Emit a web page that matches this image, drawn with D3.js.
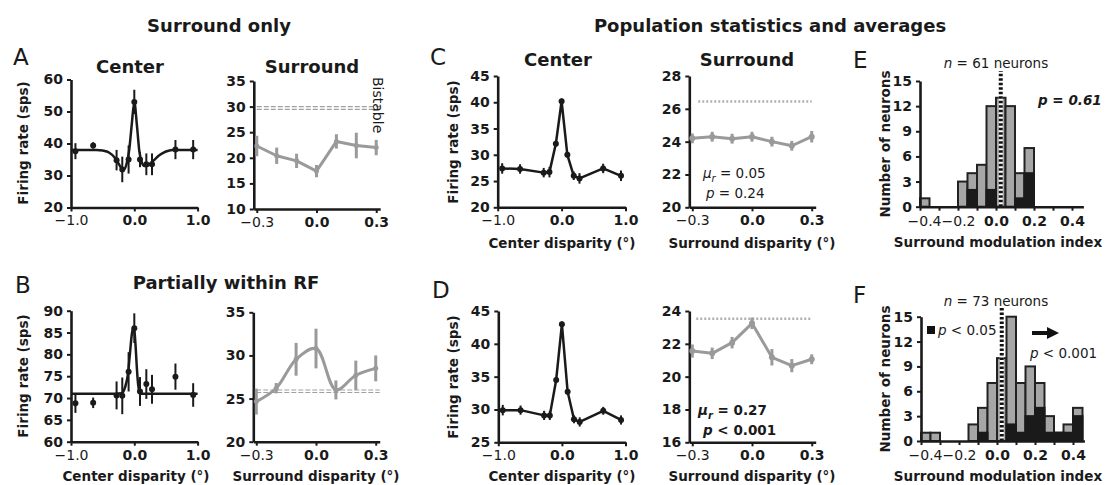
<!DOCTYPE html>
<html><head><meta charset="utf-8">
<script src="https://cdn.jsdelivr.net/npm/d3@7"></script>
<style>
body{margin:0;background:#fff}
svg{display:block}
text{font-family:"DejaVu Sans",sans-serif;fill:#1a1a1a}
</style>
</head><body>
<svg id="c" width="1108" height="485"></svg>
<script>
// ---------- data ----------
const centerDisp = [-0.93,-0.65,-0.28,-0.19,-0.09,0,0.09,0.19,0.28,0.65,0.93];
const surroundDisp = [-0.3,-0.2,-0.1,0,0.1,0.2,0.3];

// Panel A (surround only, example neuron)
const aCenterRate = [37.6,39.4,34.8,31.9,35.0,53.0,35.0,33.5,33.5,38.1,38.1];
const aCenterErr  = [2.5,1.0,3.2,4.0,4.4,3.8,2.4,3.4,3.4,3.0,3.0];
const aFitX = [-1.0,-0.8,-0.6,-0.5,-0.4,-0.3,-0.25,-0.2,-0.16,-0.12,-0.08,-0.04,0,0.04,0.08,0.12,0.16,0.2,0.3,0.4,0.5,0.6,0.8,1.0];
const aFitY = [38,38,38,37.8,37.2,35.4,33.8,32.2,32,33.8,38,46,53,46,37.5,34,33,33,34.6,36.4,37.5,38,38,38];
const aSurRate = [22.3,20.4,19.4,17.4,23.2,22.4,22.0];
const aSurErr  = [2.0,1.6,1.4,1.2,1.4,2.5,1.5];
const aBistable = [29.45,30.0];

// Panel B (partially within RF, example neuron)
const bCenterRate = [68.8,68.9,70.6,70.5,76.0,86.0,71.5,73.2,72.0,74.9,70.7];
const bCenterErr  = [2.2,1.2,3.2,4.2,4.5,3.4,3.3,3.4,3.3,3.0,2.7];
const bFitX = [-1,-0.3,-0.2,-0.15,-0.1,-0.07,-0.04,-0.02,0,0.02,0.04,0.06,0.08,0.1,0.2,1];
const bFitY = [71,71,71.1,72.3,75.5,80,84.5,86,85.5,82,77,73.2,71.5,71,71,71];
const bSurRate = [24.65,26.2,29.55,30.8,26.0,27.7,28.5];
const bSurErr  = [1.5,0.6,1.9,2.3,1.1,1.7,1.5];
const bBaseline = [25.7,26.0];

// Panel C (population, surround only)
const cCenterRate = [27.4,27.3,26.6,26.7,32.1,40.2,30.0,26.0,25.5,27.4,26.0];
const cCenterErr  = [1.0,0.9,0.9,1.0,0.5,0.5,0.5,0.8,1.0,0.9,1.0];
const cSurRate = [24.2,24.3,24.18,24.3,24.0,23.75,24.3];
const cSurErr  = [0.3,0.3,0.3,0.3,0.3,0.3,0.35];
const cBaseline = 26.44;

// Panel D (population, partially within RF)
const dCenterRate = [29.9,29.9,29.1,29.1,34.5,43.0,32.7,28.5,28.1,29.8,28.4];
const dCenterErr  = [0.8,0.7,0.7,0.7,0.4,0.4,0.4,0.6,0.7,0.6,0.7];
const dSurRate = [21.56,21.42,22.07,23.25,21.18,20.67,21.06];
const dSurErr  = [0.4,0.35,0.35,0.35,0.5,0.4,0.3];
const dBaseline = 23.53;

// Histograms (bin starts, width 0.05)
const binStart = [-0.4,-0.35,-0.3,-0.25,-0.2,-0.15,-0.1,-0.05,0,0.05,0.1,0.15,0.2,0.25,0.3,0.35,0.4];
const eTotal = [1,0,0,0,3,4,5,12,13,12,4,7,0,0,0,0,0];
const eSig   = [0,0,0,0,0,2,0,2,0,0,1,4,0,0,0,0,0];
const fTotal = [1,1,0,0,0,2,4,7,10,15,7,9,7,3,1,2,4];
const fSig   = [0,0,0,0,0,0,1,0,0,2,1,3,4,1,1,1,3];
const eMean = 0.025, fMean = 0.025;

// ---------- drawing ----------
const svg = d3.select("#c");
const GRAY = "#9a9a9a";
const fmt1 = d3.format(".1f");

function styleAxis(a, fs){
  a.select(".domain").attr("stroke","#1a1a1a").attr("stroke-width",2.6);
  a.selectAll(".tick line").attr("stroke","#1a1a1a").attr("stroke-width",2);
  a.selectAll(".tick text").attr("font-size",fs||14).attr("fill","#1a1a1a")
    .attr("font-family","DejaVu Sans").attr("font-weight",d=>d<0?"normal":"bold");
}

function panel(c){
  const x = d3.scaleLinear().domain(c.xd).range([c.left,c.right]);
  const y = d3.scaleLinear().domain(c.yd).range([c.bottom,c.top]);
  const g = svg.append("g");
  const ay = g.append("g").attr("transform",`translate(${c.left},0)`)
    .call(d3.axisLeft(y).tickValues(c.yt).tickSize(4).tickSizeOuter(0).tickPadding(4).tickFormat(d3.format("d")));
  styleAxis(ay);
  const ax = g.append("g").attr("transform",`translate(0,${c.bottom})`)
    .call(d3.axisBottom(x).tickValues(c.xt).tickSize(4).tickSizeOuter(0).tickPadding(4).tickFormat(c.xf||fmt1));
  styleAxis(ax);
  return {x,y,g};
}

function errData(p, xs, vals, errs, color, w, r){
  p.g.append("g").selectAll("line").data(vals).join("line")
    .attr("x1",(d,i)=>p.x(xs[i])).attr("x2",(d,i)=>p.x(xs[i]))
    .attr("y1",(d,i)=>p.y(d-errs[i])).attr("y2",(d,i)=>p.y(d+errs[i]))
    .attr("stroke",color).attr("stroke-width",w);
  p.g.append("g").selectAll("circle").data(vals).join("circle")
    .attr("cx",(d,i)=>p.x(xs[i])).attr("cy",d=>p.y(d)).attr("r",r).attr("fill",color);
}
function linePath(p, xs, vals, color, w, curve){
  p.g.append("path").datum(vals)
    .attr("d",d3.line().x((d,i)=>p.x(xs[i])).y(d=>p.y(d)).curve(curve||d3.curveLinear))
    .attr("fill","none").attr("stroke",color).attr("stroke-width",w).attr("stroke-linejoin","round");
}
function hline(p, v, x0, x1, color, w, dash){
  p.g.append("line").attr("x1",p.x(x0)).attr("x2",p.x(x1)).attr("y1",p.y(v)).attr("y2",p.y(v))
    .attr("stroke",color).attr("stroke-width",w).attr("stroke-dasharray",dash);
}
function txt(x,y,s,opt){
  const t = svg.append("text").attr("x",x).attr("y",y).text(s);
  opt = opt||{};
  t.attr("font-size",opt.fs||14).attr("font-weight",opt.fw||"normal")
   .attr("text-anchor",opt.anchor||"start");
  if(opt.style) t.attr("font-style",opt.style);
  if(opt.fill) t.attr("fill",opt.fill);
  return t;
}
function ylab(x,y,s){
  svg.append("text").attr("transform",`translate(${x},${y}) rotate(-90)`)
    .attr("text-anchor","middle").attr("font-size",13.5).attr("font-weight","bold").text(s);
}
const centerX = [-1,0,1], surX = [-0.3,0,0.3];
const surD = [-0.315,0.32];

// ---- Panel A ----
const pAc = panel({xd:[-1,1],left:71,right:197.6,yd:[20,60],bottom:207.5,top:79.5,yt:[20,30,40,50,60],xt:centerX});
linePath(pAc, aFitX, aFitY, "#1a1a1a", 2.5, d3.curveMonotoneX);
errData(pAc, centerDisp, aCenterRate, aCenterErr, "#1a1a1a", 2, 3);
const pAs = panel({xd:surD,left:253.8,right:380.2,yd:[10,35],bottom:209,top:81,yt:[10,15,20,25,30,35],xt:surX});
aBistable.forEach(v=>hline(pAs, v, -0.3, 0.32, "#a0a0a0", 1.1, "5,2"));
linePath(pAs, surroundDisp, aSurRate, GRAY, 3);
errData(pAs, surroundDisp, aSurRate, aSurErr, GRAY, 3, 2.5);
svg.append("text").attr("transform","translate(373,77) rotate(90)").attr("font-size",14)
  .attr("fill","#aaaaaa").text("Bistable");

// ---- Panel B ----
const pBc = panel({xd:[-1,1],left:71,right:197.6,yd:[60,90],bottom:441.7,top:310.7,yt:[60,65,70,75,80,85,90],xt:centerX});
linePath(pBc, bFitX, bFitY, "#1a1a1a", 2.5, d3.curveMonotoneX);
errData(pBc, centerDisp, bCenterRate, bCenterErr, "#1a1a1a", 2, 3);
const pBs = panel({xd:surD,left:253.3,right:379.7,yd:[20,35],bottom:441.7,top:312.3,yt:[20,25,30,35],xt:surX});
bBaseline.forEach(v=>hline(pBs, v, -0.3, 0.32, "#a0a0a0", 1.1, "5,2"));
linePath(pBs, surroundDisp, bSurRate, GRAY, 3, d3.curveCatmullRom);
errData(pBs, surroundDisp, bSurRate, bSurErr, GRAY, 3, 2.5);

// ---- Panel C ----
const pCc = panel({xd:[-1,1],left:497.7,right:625.5,yd:[20,45],bottom:207.3,top:76,yt:[20,25,30,35,40,45],xt:centerX});
linePath(pCc, centerDisp, cCenterRate, "#1a1a1a", 2.5);
errData(pCc, centerDisp, cCenterRate, cCenterErr, "#1a1a1a", 2, 3);
const pCs = panel({xd:surD,left:689.3,right:815.7,yd:[20,28],bottom:207.3,top:76,yt:[20,22,24,26,28],xt:surX});
hline(pCs, cBaseline, -0.27, 0.3, "#b0b0b0", 2.5, "2,2");
linePath(pCs, surroundDisp, cSurRate, GRAY, 3);
errData(pCs, surroundDisp, cSurRate, cSurErr, GRAY, 3, 3);

// ---- Panel D ----
const pDc = panel({xd:[-1,1],left:498.3,right:625.5,yd:[25,45],bottom:442.3,top:311,yt:[25,30,35,40,45],xt:centerX});
linePath(pDc, centerDisp, dCenterRate, "#1a1a1a", 2.5);
errData(pDc, centerDisp, dCenterRate, dCenterErr, "#1a1a1a", 2, 3);
const pDs = panel({xd:surD,left:689.3,right:815.7,yd:[16,24],bottom:442.3,top:311,yt:[16,18,20,22,24],xt:surX});
hline(pDs, dBaseline, -0.28, 0.3, "#b0b0b0", 2.5, "2,2");
linePath(pDs, surroundDisp, dSurRate, GRAY, 3);
errData(pDs, surroundDisp, dSurRate, dSurErr, GRAY, 3, 3);

// ---- Histograms ----
function hist(c, total, sig, mean){
  const x = d3.scaleLinear().domain([-0.4,0.46]).range([c.left,c.left+163.4]);
  const y = d3.scaleLinear().domain([0,15]).range([c.bottom,c.top]);
  const g = svg.append("g");
  const bw = 0.05;
  const rows = binStart.map((b,i)=>({b, t:total[i], s:sig[i]}));
  g.append("g").selectAll("rect").data(rows.filter(r=>r.t>0)).join("rect")
    .attr("x",r=>x(r.b)).attr("y",r=>y(r.t))
    .attr("width",x(bw)-x(0)).attr("height",r=>y(0)-y(r.t))
    .attr("fill","#a6a6a6").attr("stroke","#222").attr("stroke-width",2);
  g.append("g").selectAll("rect").data(rows.filter(r=>r.s>0)).join("rect")
    .attr("x",r=>x(r.b)).attr("y",r=>y(r.s))
    .attr("width",x(bw)-x(0)).attr("height",r=>y(0)-y(r.s))
    .attr("fill","#1a1a1a").attr("stroke","#1a1a1a").attr("stroke-width",2);
  g.append("line").attr("x1",x(mean)).attr("x2",x(mean)).attr("y1",y(0)).attr("y2",y(16.2))
    .attr("stroke","#fff").attr("stroke-width",4);
  g.append("line").attr("x1",x(mean)).attr("x2",x(mean)).attr("y1",y(0)).attr("y2",y(16.2))
    .attr("stroke","#111").attr("stroke-width",4).attr("stroke-dasharray","2.5,2");
  const ay = g.append("g").attr("transform",`translate(${c.left},0)`)
    .call(d3.axisLeft(y).tickValues([0,3,6,9,12,15]).tickSize(4).tickSizeOuter(0).tickPadding(4));
  styleAxis(ay);
  const ticks = d3.range(-4,5).map(v=>v/10);
  const ax = g.append("g").attr("transform",`translate(0,${c.bottom})`)
    .call(d3.axisBottom(x).tickValues(ticks).tickSize(4).tickSizeOuter(0).tickPadding(5)
      .tickFormat((d,i)=> i%2===0 ? fmt1(d) : ""));
  styleAxis(ax);
  ax.selectAll(".tick text").filter(d=>Math.abs(d+0.4)<1e-9).attr("dx",4);
  return {x,y,g};
}
hist({left:920,bottom:206.7,top:81}, eTotal, eSig, eMean);
hist({left:921,bottom:441,top:316.7}, fTotal, fSig, fMean);

// ---------- text ----------
txt(219,32,"Surround only",{fs:18,fw:"bold",anchor:"middle"});
txt(770,32,"Population statistics and averages",{fs:18,fw:"bold",anchor:"middle"});
txt(226,289,"Partially within RF",{fs:18,fw:"bold",anchor:"middle"});
txt(130,72.5,"Center",{fs:18,fw:"bold",anchor:"middle"});
txt(312,72.5,"Surround",{fs:18,fw:"bold",anchor:"middle"});
txt(558,66,"Center",{fs:18,fw:"bold",anchor:"middle"});
txt(747,66,"Surround",{fs:18,fw:"bold",anchor:"middle"});

txt(13,65,"A",{fs:23}); txt(15,293,"B",{fs:23});
txt(430,65,"C",{fs:23}); txt(432,298,"D",{fs:23});
txt(853,68,"E",{fs:23}); txt(853,303,"F",{fs:23});

ylab(28,143,"Firing rate (sps)");
ylab(28,376,"Firing rate (sps)");
ylab(458,142,"Firing rate (sps)");
ylab(458,377,"Firing rate (sps)");
ylab(890,144,"Number of neurons");
ylab(890,379,"Number of neurons");

txt(136,481,"Center disparity (°)",{fs:13.5,fw:"bold",anchor:"middle"});
txt(316,481,"Surround disparity (°)",{fs:13.5,fw:"bold",anchor:"middle"});
txt(562,248,"Center disparity (°)",{fs:13.5,fw:"bold",anchor:"middle"});
txt(752,248,"Surround disparity (°)",{fs:13.5,fw:"bold",anchor:"middle"});
txt(562,481,"Center disparity (°)",{fs:13.5,fw:"bold",anchor:"middle"});
txt(752,481,"Surround disparity (°)",{fs:13.5,fw:"bold",anchor:"middle"});
txt(998,247,"Surround modulation index",{fs:13.5,fw:"bold",anchor:"middle"});
txt(998,481,"Surround modulation index",{fs:13.5,fw:"bold",anchor:"middle"});

function mu(x,y,val,fw){
  const t = svg.append("text").attr("x",x).attr("y",y).attr("font-size",13.5).attr("font-weight",fw);
  t.append("tspan").attr("font-style","italic").text("μ");
  t.append("tspan").attr("font-style","italic").attr("font-size",10).attr("dy",4).text("r");
  t.append("tspan").attr("dy",-4).text(" = "+val);
}
function pv(x,y,rest,fw,style){
  const t = svg.append("text").attr("x",x).attr("y",y).attr("font-size",13.5).attr("font-weight",fw);
  t.append("tspan").attr("font-style","italic").text("p");
  t.append("tspan").attr("font-style",style||"normal").text(rest);
}
mu(703,178,"0.05","normal");
pv(706,198," = 0.24","normal");
mu(698,415,"0.27","bold");
pv(703,435," < 0.001","bold");

function nlab(x,y,rest){
  const t = svg.append("text").attr("x",x).attr("y",y).attr("font-size",13.5).attr("text-anchor","middle");
  t.append("tspan").attr("font-style","italic").text("n");
  t.append("tspan").text(rest);
}
nlab(996,68," = 61 neurons");
nlab(996,306," = 73 neurons");
pv(1038,105," = 0.61","bold","italic");

svg.append("rect").attr("x",927).attr("y",326).attr("width",8).attr("height",8).attr("fill","#111");
pv(938,335," < 0.05","normal");
svg.append("line").attr("x1",1032).attr("x2",1049).attr("y1",333).attr("y2",333).attr("stroke","#111").attr("stroke-width",4);
svg.append("path").attr("d","M1047,327 L1059,333 L1047,339 Z").attr("fill","#111");
pv(1030,358," < 0.001","normal");
</script>
</body></html>
